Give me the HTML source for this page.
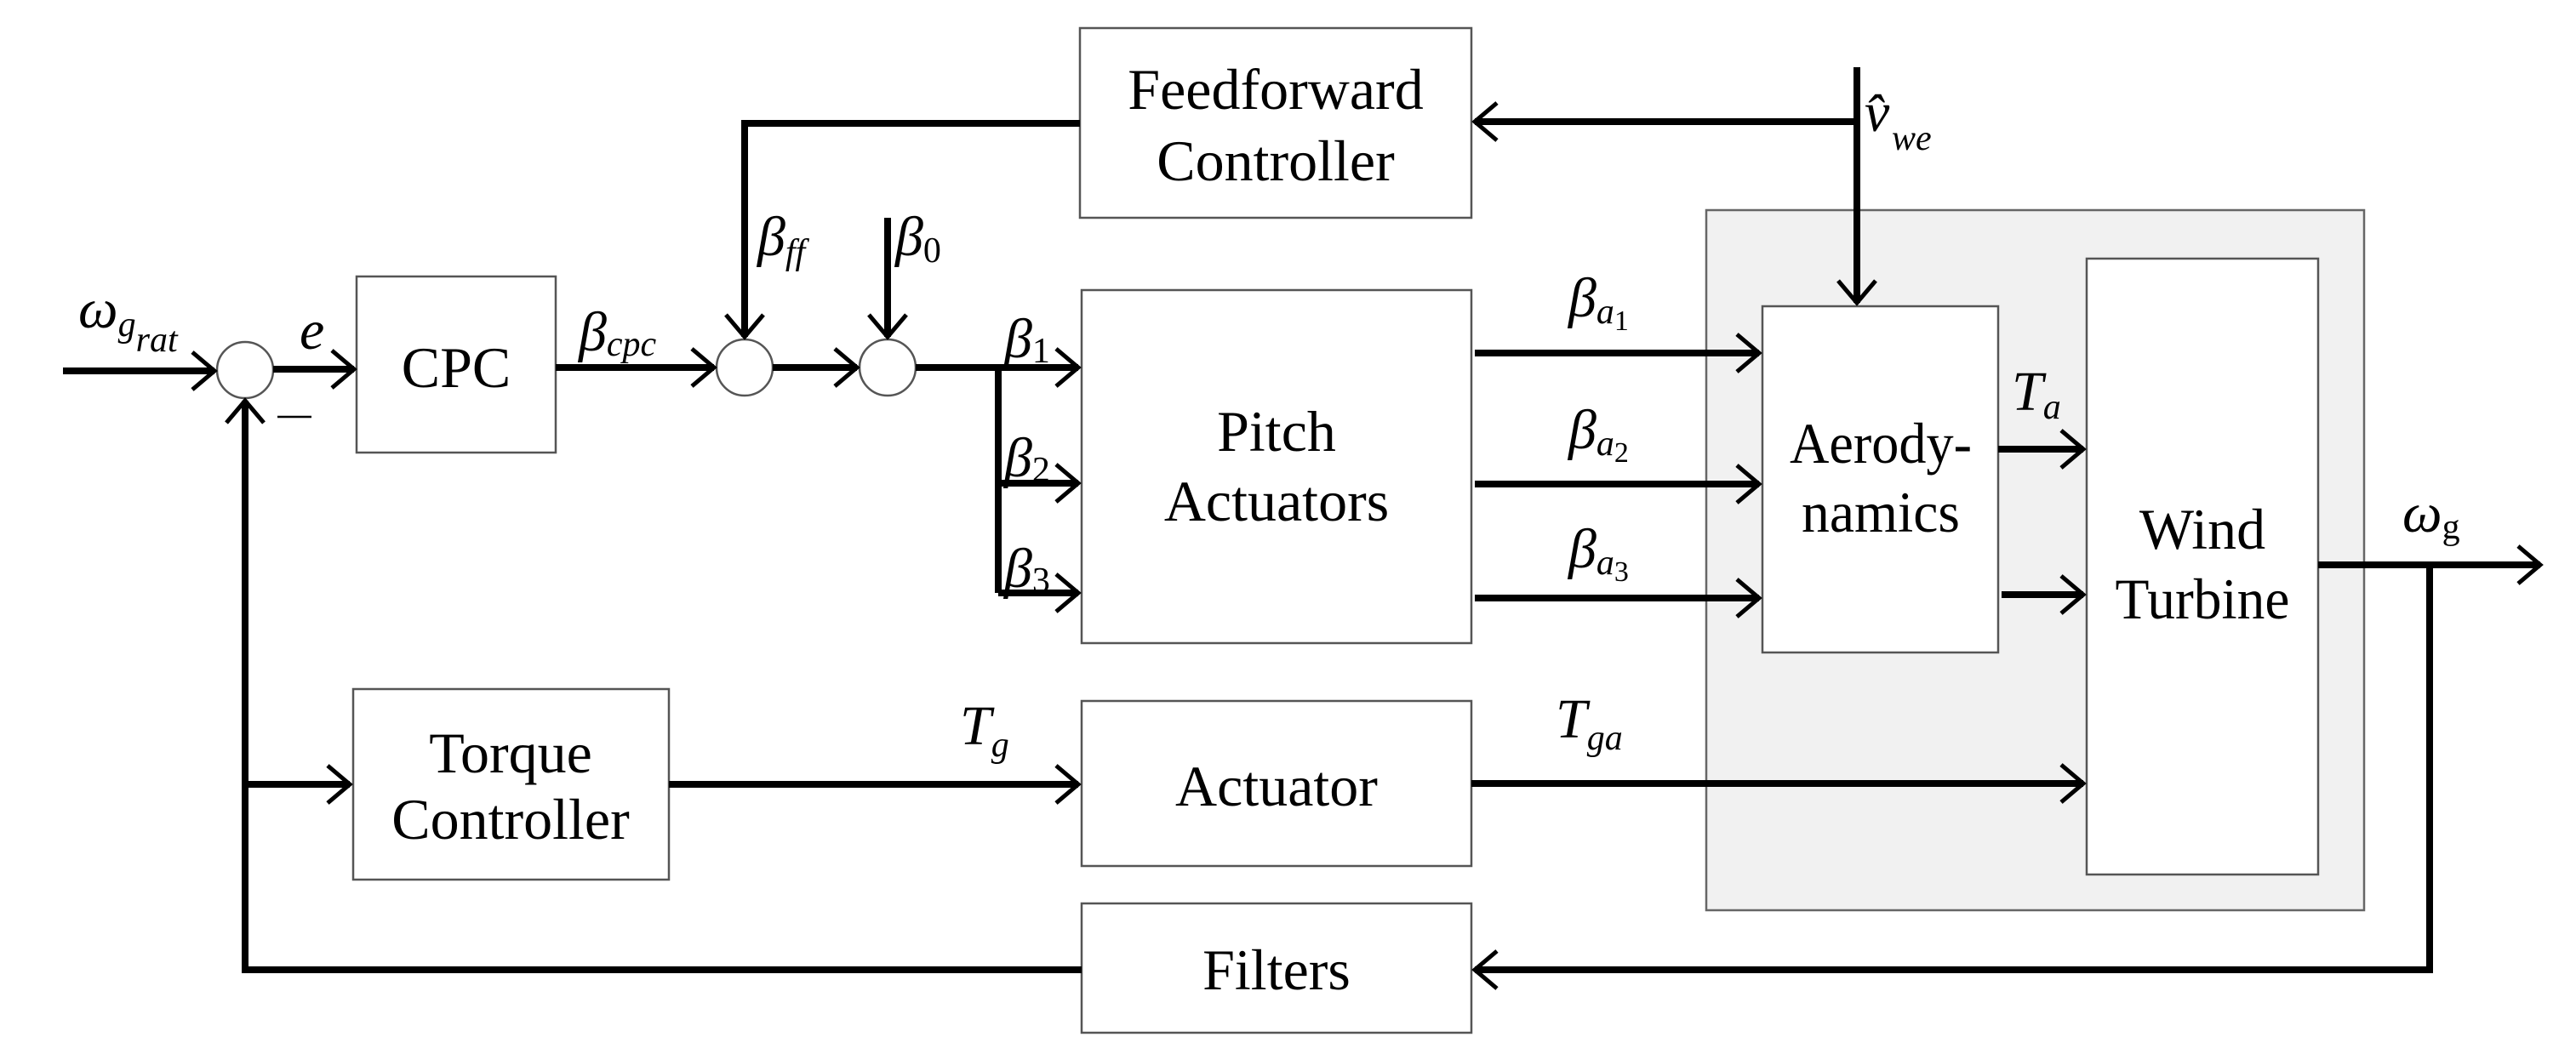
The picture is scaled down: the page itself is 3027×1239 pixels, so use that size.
<!DOCTYPE html>
<html><head><meta charset="utf-8"><style>
html,body{margin:0;padding:0;background:#fff}
svg{display:block}
text{font-family:"Liberation Serif",serif;fill:#000}
.b{font-size:68px}
.i{font-style:italic;font-size:66px}
.s{font-style:italic;font-size:42px}
</style></head><body>
<svg width="3027" height="1239" viewBox="0 0 3027 1239" xmlns="http://www.w3.org/2000/svg">
<defs>
<marker id="a" markerUnits="userSpaceOnUse" markerWidth="60" markerHeight="60" refX="0" refY="0" viewBox="-40 -30 50 60" orient="auto">
<path d="M-26,-22 L0,0 L-26,22" fill="none" stroke="#000" stroke-width="5"/>
</marker>
</defs>
<!-- gray box -->
<rect x="2005" y="247" width="773" height="823" fill="#f1f1f1" stroke="#666" stroke-width="2.5"/>
<!-- boxes -->
<g fill="#fff" stroke="#555" stroke-width="2.5">
<rect x="1269" y="33" width="460" height="223"/>
<rect x="419" y="325" width="234" height="207"/>
<rect x="1271" y="341" width="458" height="415"/>
<rect x="415" y="810" width="371" height="224"/>
<rect x="1271" y="824" width="458" height="194"/>
<rect x="1271" y="1062" width="458" height="152"/>
<rect x="2071" y="360" width="277" height="407"/>
<rect x="2452" y="304" width="272" height="724"/>
<circle cx="288" cy="435" r="33"/>
<circle cx="875" cy="432" r="33"/>
<circle cx="1043" cy="432" r="33"/>
</g>
<!-- lines -->
<g fill="none" stroke="#000" stroke-width="8">
<line x1="74" y1="436" x2="252" y2="436" marker-end="url(#a)"/>
<line x1="321" y1="434" x2="416" y2="434" marker-end="url(#a)"/>
<line x1="653" y1="432" x2="839" y2="432" marker-end="url(#a)"/>
<line x1="908" y1="432" x2="1007" y2="432" marker-end="url(#a)"/>
<polyline points="1076,432 1173,432 1173,697"/>
<line x1="1173" y1="432" x2="1267" y2="432" marker-end="url(#a)"/>
<line x1="1173" y1="568" x2="1267" y2="568" marker-end="url(#a)"/>
<line x1="1173" y1="697" x2="1267" y2="697" marker-end="url(#a)"/>
<polyline points="1269,145 875,145 875,396" marker-end="url(#a)"/>
<line x1="1043" y1="256" x2="1043" y2="396" marker-end="url(#a)"/>
<line x1="2182" y1="79" x2="2182" y2="356" marker-end="url(#a)"/>
<line x1="2182" y1="143" x2="1733" y2="143" marker-end="url(#a)"/>
<line x1="1733" y1="415" x2="2067" y2="415" marker-end="url(#a)"/>
<line x1="1733" y1="569" x2="2067" y2="569" marker-end="url(#a)"/>
<line x1="1733" y1="703" x2="2067" y2="703" marker-end="url(#a)"/>
<line x1="2348" y1="528" x2="2448" y2="528" marker-end="url(#a)"/>
<line x1="2352" y1="699" x2="2448" y2="699" marker-end="url(#a)"/>
<line x1="1729" y1="921" x2="2448" y2="921" marker-end="url(#a)"/>
<line x1="786" y1="922" x2="1267" y2="922" marker-end="url(#a)"/>
<line x1="2724" y1="664" x2="2985" y2="664" marker-end="url(#a)"/>
<polyline points="2855,664 2855,1140 1733,1140" marker-end="url(#a)"/>
<polyline points="1271,1140 288,1140 288,471" marker-end="url(#a)"/>
<line x1="288" y1="922" x2="411" y2="922" marker-end="url(#a)"/>
</g>
<line x1="326" y1="490" x2="366" y2="490" stroke="#000" stroke-width="2.5"/>
<!-- box text -->
<g class="b" text-anchor="middle">
<text x="1499" y="128">Feedforward</text>
<text x="1499" y="212">Controller</text>
<text x="536" y="455">CPC</text>
<text x="1500" y="530">Pitch</text>
<text x="1500" y="612">Actuators</text>
<text x="600" y="908">Torque</text>
<text x="600" y="986">Controller</text>
<text x="1500" y="947">Actuator</text>
<text x="1500" y="1163">Filters</text>
<text x="2210" y="544" textLength="214" lengthAdjust="spacingAndGlyphs">Aerody-</text>
<text x="2210" y="625" textLength="186" lengthAdjust="spacingAndGlyphs">namics</text>
<text x="2588" y="645">Wind</text>
<text x="2588" y="727" textLength="205" lengthAdjust="spacingAndGlyphs">Turbine</text>
</g>
<!-- labels -->
<text class="i" x="92" y="385">ω<tspan class="s" dy="10">g</tspan><tspan class="s" dy="18">rat</tspan></text>
<text class="i" x="352" y="410">e</text>
<text class="i" x="680" y="412">β<tspan class="s" dy="6">cpc</tspan></text>
<text class="i" x="890" y="300">β<tspan class="s" dy="10">ff</tspan></text>
<text class="i" x="1052" y="300">β<tspan class="s" dy="8" style="font-style:normal">0</tspan></text>
<text class="i" x="1180" y="420">β<tspan class="s" dy="6" style="font-style:normal">1</tspan></text>
<text class="i" x="1180" y="560">β<tspan class="s" dy="6" style="font-style:normal">2</tspan></text>
<text class="i" x="1180" y="690">β<tspan class="s" dy="6" style="font-style:normal">3</tspan></text>
<text class="i" x="1843" y="372">β<tspan class="s" dy="8">a</tspan><tspan class="s" dy="8" style="font-style:normal;font-size:34px">1</tspan></text>
<text class="i" x="1843" y="527">β<tspan class="s" dy="8">a</tspan><tspan class="s" dy="8" style="font-style:normal;font-size:34px">2</tspan></text>
<text class="i" x="1843" y="667">β<tspan class="s" dy="8">a</tspan><tspan class="s" dy="8" style="font-style:normal;font-size:34px">3</tspan></text>
<text class="i" x="2364" y="482">T<tspan class="s" dy="10">a</tspan></text>
<text class="i" x="2823" y="625">ω<tspan class="s" dy="8" style="font-style:normal">g</tspan></text>
<text class="i" x="1128" y="875">T<tspan class="s" dy="14">g</tspan></text>
<text class="i" x="1828" y="867">T<tspan class="s" dy="14">ga</tspan></text>
<text class="i" x="2191" y="154">v̂</text>
<text class="s" x="2223" y="176">we</text>
</svg>
</body></html>
